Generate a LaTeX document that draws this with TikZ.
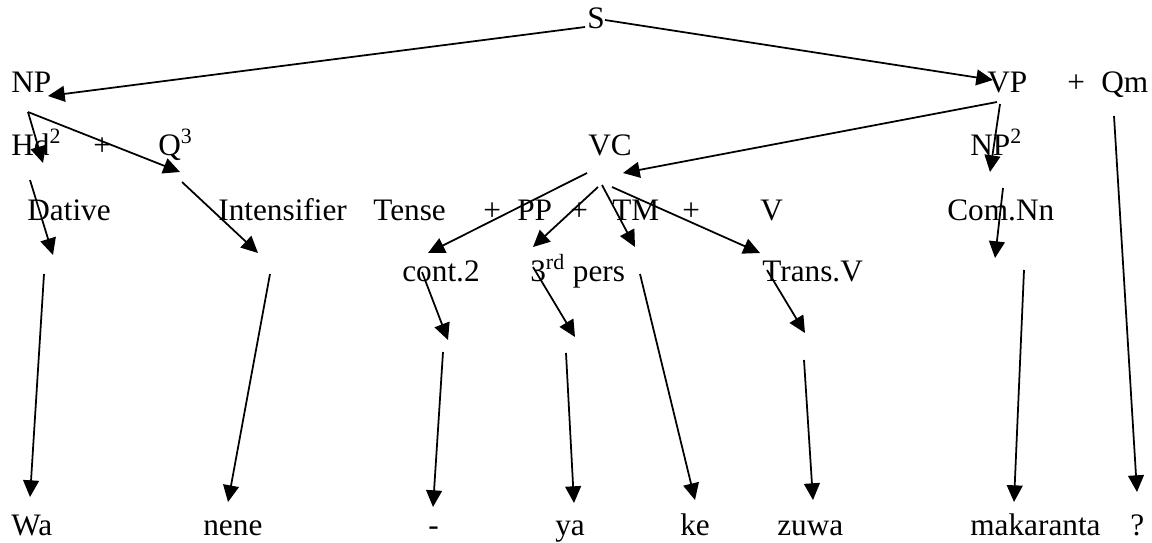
\documentclass[tikz,border=0pt]{standalone}
\usepackage{fontspec}
\setmainfont{Liberation Serif}
\usetikzlibrary{arrows.meta}

\begin{document}
\begin{tikzpicture}[x=0.02cm, y=-0.02cm,
		lbl/.style={anchor=base west, inner sep=0pt, font=\fontsize{17.8}{21}\selectfont},
		arr/.style={line width=1pt, -{Triangle[length=9.5pt, width=9pt]}}]
		\useasboundingbox (0,0) rectangle (1152,542);
		% top levels
		\node[lbl] (s) at (587,28) {S};
		\node[lbl] (np) at (11,92) {NP};
		\node[lbl] (vp) at (987,92) {VP};
		\node[lbl] (plus-qm) at (1067,92) {+};
		\node[lbl] (qm) at (1101,92) {Qm};
		\node[lbl] (hd) at (11,155) {Hd\textsuperscript{2}};
		\node[lbl] (plus-hd) at (93,155) {+};
		\node[lbl] (q) at (158,155) {Q\textsuperscript{3}};
		\node[lbl] (vc) at (588,155) {VC};
		\node[lbl] (np2) at (970,155) {NP\textsuperscript{2}};
		% constituents
		\node[lbl] (dat) at (27,220) {Dative};
		\node[lbl] (int) at (218,220) {Intensifier};
		\node[lbl] (tense) at (373,220) {Tense};
		\node[lbl] (plus-a) at (483,220) {+};
		\node[lbl] (pp) at (517,220) {PP};
		\node[lbl] (plus-b) at (570,220) {+};
		\node[lbl] (tm) at (612,220) {TM};
		\node[lbl] (plus-c) at (682,220) {+};
		\node[lbl] (v) at (760,220) {V};
		\node[lbl] (com) at (947,220) {Com.Nn};
		\node[lbl] (cont) at (402,281) {cont.2};
		\node[lbl] (pers) at (530,281) {3\textsuperscript{rd} pers};
		\node[lbl] (trans) at (762,281) {Trans.V};
		% words
		\node[lbl] (wa) at (11,535) {Wa};
		\node[lbl] (nene) at (203,535) {nene};
		\node[lbl] (dash) at (428,535) {-};
		\node[lbl] (ya) at (555,535) {ya};
		\node[lbl] (ke) at (680,535) {ke};
		\node[lbl] (zuwa) at (777,535) {zuwa};
		\node[lbl] (mak) at (970,535) {makaranta};
		\node[lbl] (qmark) at (1130,535) {?};
		% branches
		\foreach \n/\p/\q in {
				s-np/{(585,27)}/{(48,96)}, s-vp/{(605,20)}/{(993,80)},
				np-hd/{(28,112)}/{(43,163)}, np-q/{(28,112)}/{(180,172)},
				vp-vc/{(997,102)}/{(623,173)}, vp-np2/{(1000,104)}/{(990,172)},
				qm-end/{(1114,116)}/{(1137,492)},
				hd-dat/{(30,180)}/{(53,255)}, q-int/{(182,182)}/{(258,253)},
				dat-wa/{(44,274)}/{(30,497)}, int-nene/{(270,274)}/{(228,502)},
				vc-tense/{(587,173)}/{(428,253)}, vc-pp/{(598,187)}/{(533,247)},
				vc-tm/{(602,185)}/{(635,247)}, vc-v/{(612,187)}/{(760,253)},
				np2-com/{(1003,188)}/{(995,258)},
				tense-cont/{(422,272)}/{(448,340)}, pp-pers/{(533,267)}/{(575,337)},
				v-trans/{(767,270)}/{(805,333)},
				cont-dash/{(443,352)}/{(433,507)}, pers-ya/{(566,353)}/{(574,503)},
				tm-ke/{(640,274)}/{(695,500)}, trans-zuwa/{(804,360)}/{(813,500)},
				com-mak/{(1024,270)}/{(1014,502)}}{
			\path \p coordinate (\n-from) \q coordinate (\n-to);
			\draw[arr] (\n-from) -- (\n-to);
		}
	\end{tikzpicture}
\end{document}
